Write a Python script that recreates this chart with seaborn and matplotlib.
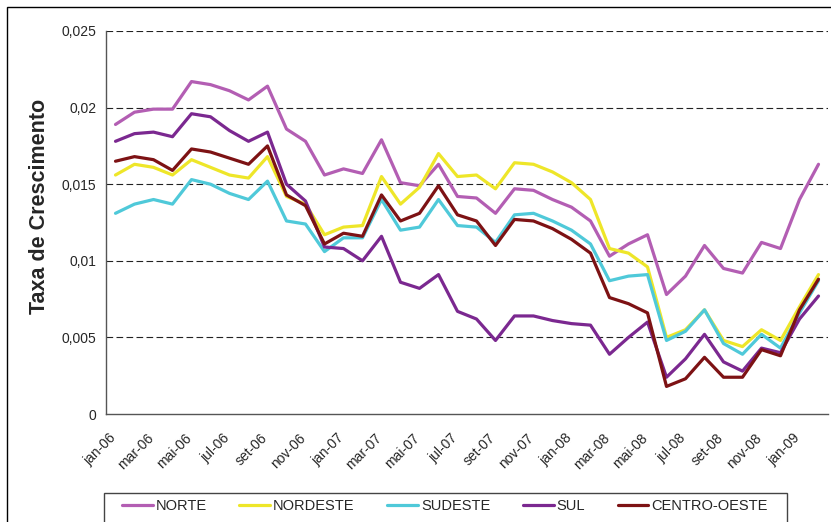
import numpy as np
import pandas as pd
import seaborn as sns
import matplotlib.pyplot as plt
import matplotlib.transforms as mtransforms
from matplotlib.patches import Rectangle

# months jan-06 .. fev-09
meses = ["jan", "fev", "mar", "abr", "mai", "jun", "jul", "ago", "set", "out", "nov", "dez"]
labels = ["{}-{:02d}".format(meses[k % 12], 6 + k // 12) for k in range(38)]

norte = [0.0189, 0.0197, 0.0199, 0.0199, 0.0217, 0.0215, 0.0211, 0.0205, 0.0214, 0.0186,
         0.0178, 0.0156, 0.0160, 0.0157, 0.0179, 0.0151, 0.0149, 0.0163, 0.0142, 0.0141,
         0.0131, 0.0147, 0.0146, 0.0140, 0.0135, 0.0126, 0.0103, 0.0111, 0.0117, 0.0078,
         0.0090, 0.0110, 0.0095, 0.0092, 0.0112, 0.0108, 0.0140, 0.0163]
nordeste = [0.0156, 0.0163, 0.0161, 0.0156, 0.0166, 0.0161, 0.0156, 0.0154, 0.0168, 0.0142,
            0.0137, 0.0117, 0.0122, 0.0123, 0.0155, 0.0137, 0.0148, 0.0170, 0.0155, 0.0156,
            0.0147, 0.0164, 0.0163, 0.0158, 0.0151, 0.0140, 0.0108, 0.0105, 0.0096, 0.0050,
            0.0055, 0.0068, 0.0048, 0.0044, 0.0055, 0.0048, 0.0070, 0.0091]
sudeste = [0.0131, 0.0137, 0.0140, 0.0137, 0.0153, 0.0150, 0.0144, 0.0140, 0.0152, 0.0126,
           0.0124, 0.0106, 0.0115, 0.0115, 0.0140, 0.0120, 0.0122, 0.0140, 0.0123, 0.0122,
           0.0112, 0.0130, 0.0131, 0.0126, 0.0120, 0.0111, 0.0087, 0.0090, 0.0091, 0.0048,
           0.0054, 0.0068, 0.0046, 0.0039, 0.0052, 0.0043, 0.0066, 0.0087]
sul = [0.0178, 0.0183, 0.0184, 0.0181, 0.0196, 0.0194, 0.0185, 0.0178, 0.0184, 0.0150,
       0.0139, 0.0109, 0.0108, 0.0100, 0.0116, 0.0086, 0.0082, 0.0091, 0.0067, 0.0062,
       0.0048, 0.0064, 0.0064, 0.0061, 0.0059, 0.0058, 0.0039, 0.0050, 0.0060, 0.0024,
       0.0036, 0.0052, 0.0034, 0.0028, 0.0043, 0.0040, 0.0062, 0.0077]
centro_oeste = [0.0165, 0.0168, 0.0166, 0.0159, 0.0173, 0.0171, 0.0167, 0.0163, 0.0175, 0.0143,
                0.0136, 0.0111, 0.0118, 0.0116, 0.0143, 0.0126, 0.0131, 0.0149, 0.0130, 0.0126,
                0.0110, 0.0127, 0.0126, 0.0121, 0.0114, 0.0105, 0.0076, 0.0072, 0.0066, 0.0018,
                0.0023, 0.0037, 0.0024, 0.0024, 0.0042, 0.0038, 0.0068, 0.0088]

regioes = ["NORTE", "NORDESTE", "SUDESTE", "SUL", "CENTRO-OESTE"]
series = [norte, nordeste, sudeste, sul, centro_oeste]
colors = ["#B35EB3", "#EEE629", "#4FC9D9", "#7B2890", "#7D1214"]

sns.set_style("white")
plt.rcParams["font.family"] = ["Liberation Sans", "DejaVu Sans"]

fig = plt.figure(figsize=(8.31, 5.22), dpi=100)
ax = fig.add_axes([106 / 831, 1 - 414 / 522, 722 / 831, 383 / 522])

x = np.arange(len(labels))
for nome, vals, c in zip(regioes, series, colors):
    sns.lineplot(x=x, y=vals, color=c, linewidth=2.3, label=nome, ax=ax)

ax.set_xlim(-0.5, len(labels) - 0.5)
ax.set_ylim(0, 0.025)

# gridlines
for v in [0.005, 0.01, 0.015, 0.02, 0.025]:
    ax.axhline(v, color="#222222", linestyle=(0, (6, 3)), linewidth=0.8, zorder=0)

ax.set_yticks([0, 0.005, 0.01, 0.015, 0.02, 0.025])
ax.set_yticklabels(["0", "0,005", "0,01", "0,015", "0,02", "0,025"], fontsize=10)

# ticks between categories, labels every two months
ax.set_xticks(np.arange(-0.5, len(labels), 1.0))
ax.set_xticklabels([])
ax.set_xticks(x[::2], minor=True)
ax.set_xticklabels(labels[::2], minor=True, rotation=45, ha="right",
                   rotation_mode="anchor", fontsize=10)
ax.tick_params(axis="x", which="major", direction="out", length=4, width=1, color="#333333")
ax.tick_params(axis="x", which="minor", length=0, pad=12)
ax.tick_params(axis="y", direction="out", length=4, width=1, color="#333333", pad=3)
shift = mtransforms.ScaledTranslation(-7 / 100, 0, fig.dpi_scale_trans)
for lab in ax.get_xticklabels(minor=True):
    lab.set_transform(lab.get_transform() + shift)

for s in ["top", "right"]:
    ax.spines[s].set_visible(False)
for s in ["left", "bottom"]:
    ax.spines[s].set_color("#555555")
    ax.spines[s].set_linewidth(1)

ax.set_ylabel("Taxa de Crescimento", fontsize=15.5, fontweight="bold")
ax.yaxis.set_label_coords(-0.077, 0.543)

ax.legend(loc="upper left", bbox_to_anchor=(122 / 831, 1 - 499 / 522),
          bbox_transform=fig.transFigure, ncol=5, fontsize=10.5, frameon=False,
          handlelength=2.1, handletextpad=0.2, columnspacing=2.25,
          borderpad=0, borderaxespad=0)
# legend box (bottom runs off the picture)
fig.patches.append(Rectangle((104 / 831, -0.1), 683 / 831, 1 - 493 / 522 + 0.1,
                             transform=fig.transFigure, fill=False,
                             edgecolor="#444444", linewidth=1))

# outer chart frame
fig.patches.append(Rectangle((7 / 831, -0.1), 1.2, 1 - 7 / 522 + 0.1, transform=fig.transFigure,
                             fill=False, edgecolor="black", linewidth=1))

fig.savefig("out.png", dpi=100)
